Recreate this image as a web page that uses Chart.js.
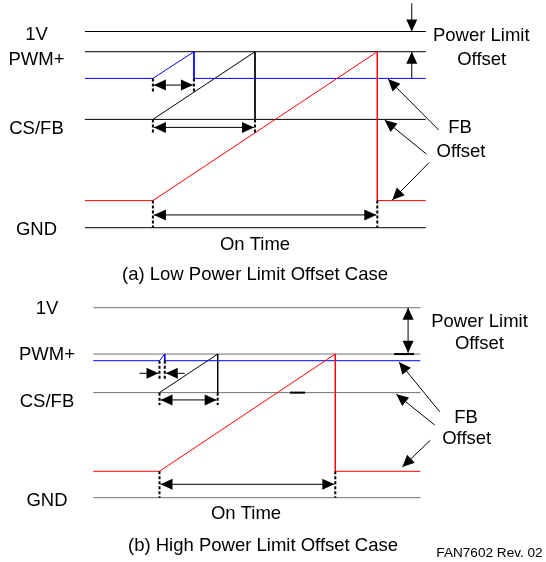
<!DOCTYPE html>
<html><head><meta charset="utf-8">
<script src="https://cdn.jsdelivr.net/npm/chart.js@4"></script>
<style>html,body{margin:0;padding:0;background:#fff;}#wrap{width:546px;height:562px;}</style>
</head><body><div id="wrap"><canvas id="c" width="546" height="562"></canvas></div>
<script>
// ---------------- DATA (volts, and time normalised to the on time) ----------------
const captions = ['(a) Low Power Limit Offset Case', '(b) High Power Limit Offset Case'];
const signalLabels = ['1V', 'PWM+', 'CS/FB', 'GND'];
const rightLabels = ['Power Limit', 'Offset', 'FB', 'Offset'];
const onTimeLabel = 'On Time';
const footnote = 'FAN7602 Rev. 02';

const refLevel    = [1.0, 1.0];     // 1V
const pwmLevel    = [0.897, 0.756]; // PWM+
const fbLevel     = [0.761, 0.721]; // blue feedback level
const csLevel     = [0.552, 0.553]; // CS/FB
const offsetLevel = [0.138, 0.139]; // red offset level
const gndLevel    = [0, 0];         // GND

const tStart   = [0, 0];
const tBlueEnd = [0.183, 0.030];
const tCsEnd   = [0.455, 0.331];
const tOnEnd   = [1, 1];
const tFrom    = [-0.303, -0.377];
const tTo      = [1.216, 1.484];
const csGlitch = [null, [0.742, 0.828]];

// ---------------- LAYOUT / STYLE ----------------
const W = 546, H = 562;
const FONT = '"Liberation Sans", Arial, Helvetica, sans-serif';
const geom = [
  { t0:152.9, t1:377.3, v0:227.7, v1:31.5, rail:'#000000',
    labelX:36.5, labelDy:[1.5, 6.6, 8.1, 0.6],
    right:[[481.3,34.5],[481.7,58.3],[460,126.7],[461,150]],
    onTime:[255,243], caption:[255,273.5],
    plInset:14, plKind:'split', plTopPx:3.3,
    pointers:[{tail:[438.7,130], tipX:388, lvl:'fb', dy:0.7},
              {tail:[426.3,154], tipX:384.7, lvl:'cs', dy:0.7},
              {tail:[429,162.7], tipX:392.3, lvl:'off', dy:-0.7}],
    dims:[{to:'blue', lvl:'fb', dy:6.7, tick:13.4, kind:'double'},
          {to:'cs', lvl:'cs', dy:8, tick:13.4, kind:'double'},
          {to:'on', lvl:'off', dy:14.3, tick:'gnd', kind:'double'}] },
  { t0:159.5, t1:335.3, v0:497.7, v1:307.7, rail:'#707070',
    labelX:47, labelDy:[-0.2, -1, 7.3, 1.3],
    right:[[479.5,320.5],[479.4,342],[466,416],[466.7,437.7]],
    onTime:[246,512], caption:[263,544],
    plInset:12.3, plKind:'double', plTopPx:null,
    pointers:[{tail:[439.7,411.7], tipX:399, lvl:'fb', dy:1.3},
              {tail:[434.7,425], tipX:396.3, lvl:'cs', dy:1.6},
              {tail:[430.3,440.3], tipX:402.3, lvl:'off', dy:-4.3}],
    dims:[{to:'blue', lvl:'fb', dy:12.6, tick:18.6, kind:'inward'},
          {to:'cs', lvl:'cs', dy:7.3, tick:12.3, kind:'double'},
          {to:'on', lvl:'off', dy:13, tick:'gnd', kind:'double'}] }
];

function lv(p, n) {
  return {v1:refLevel[p], pwm:pwmLevel[p], fb:fbLevel[p], cs:csLevel[p], off:offsetLevel[p], gnd:gndLevel[p]}[n];
}
function tm(p, n) {
  return {start:tStart[p], blue:tBlueEnd[p], cs:tCsEnd[p], on:tOnEnd[p]}[n];
}

// scales: each panel gets its own time / voltage axis pair
const scales = {};
geom.forEach((g, p) => {
  const kx = g.t1 - g.t0, ky = g.v0 - g.v1;
  scales['x' + p] = {type:'linear', axis:'x', position:'bottom', display:false, min:-g.t0 / kx, max:(W - g.t0) / kx};
  scales['y' + p] = {type:'linear', axis:'y', position:'left', display:false, min:(g.v0 - H) / ky, max:g.v0 / ky};
});

function line(p, pts, color, width) {
  return {data: pts.map(([x, y]) => ({x, y})), showLine:true, borderColor:color, backgroundColor:color,
    borderWidth:width || 1, pointRadius:0, pointHoverRadius:0, fill:false, tension:0,
    borderCapStyle:'butt', borderJoinStyle:'miter', xAxisID:'x' + p, yAxisID:'y' + p};
}

const paint = []; // in painting order (first = bottom)
geom.forEach((g, p) => {
  const a = tFrom[p], b = tTo[p];
  paint.push(line(p, [[a, refLevel[p]], [b, refLevel[p]]], g.rail));
  paint.push(line(p, [[a, pwmLevel[p]], [b, pwmLevel[p]]], g.rail));
  paint.push(line(p, [[a, csLevel[p]], [b, csLevel[p]]], g.rail));
  paint.push(line(p, [[a, gndLevel[p]], [b, gndLevel[p]]], g.rail));
  paint.push(line(p, [[tStart[p], csLevel[p]], [tCsEnd[p], pwmLevel[p]], [tCsEnd[p], csLevel[p]]], '#000000'));
  if (csGlitch[p]) paint.push(line(p, [[csGlitch[p][0], csLevel[p]], [csGlitch[p][1], csLevel[p]]], '#000000', 2));
  paint.push(line(p, [[a, fbLevel[p]], [tStart[p], fbLevel[p]], [tBlueEnd[p], pwmLevel[p]], [tBlueEnd[p], fbLevel[p]], [b, fbLevel[p]]], '#0000ff'));
  paint.push(line(p, [[a, offsetLevel[p]], [tStart[p], offsetLevel[p]], [tOnEnd[p], pwmLevel[p]], [tOnEnd[p], offsetLevel[p]], [b, offsetLevel[p]]], '#ff0000'));
});
const datasets = paint.map((d, i) => Object.assign(d, {order: paint.length - i}));

function head(ctx, x, y, ang) {
  const L = 12, Wd = 5.5, c = Math.cos(ang), s = Math.sin(ang);
  ctx.beginPath();
  ctx.moveTo(x, y);
  ctx.lineTo(x - L * c + Wd * s, y - L * s - Wd * c);
  ctx.lineTo(x - L * c - Wd * s, y - L * s + Wd * c);
  ctx.closePath();
  ctx.fill();
}
function arrow(ctx, x1, y1, x2, y2, atEnd, atStart) {
  ctx.setLineDash([]);
  ctx.lineWidth = 1;
  ctx.beginPath(); ctx.moveTo(x1, y1); ctx.lineTo(x2, y2); ctx.stroke();
  const a = Math.atan2(y2 - y1, x2 - x1);
  if (atEnd) head(ctx, x2, y2, a);
  if (atStart) head(ctx, x1, y1, a + Math.PI);
}
function tick(ctx, x, y1, y2) {
  ctx.save();
  ctx.lineWidth = 2; ctx.setLineDash([3, 2]);
  ctx.beginPath(); ctx.moveTo(x, y1); ctx.lineTo(x, y2); ctx.stroke();
  ctx.restore();
}
function txt(ctx, s, x, yc, size, align) {
  ctx.font = size + 'px ' + FONT;
  ctx.textAlign = align || 'center';
  ctx.textBaseline = 'alphabetic';
  ctx.fillText(s, x, yc + 0.358 * size);
}

const annot = {
  id: 'annot',
  afterDatasetsDraw(chart) {
    const ctx = chart.ctx;
    ctx.save();
    ctx.strokeStyle = '#000'; ctx.fillStyle = '#000';
    geom.forEach((g, p) => {
      const xs = chart.scales['x' + p], ys = chart.scales['y' + p];
      const X = t => xs.getPixelForValue(t), Y = v => ys.getPixelForValue(v);
      const xR = X(tTo[p]);
      // dimension arrows
      g.dims.forEach(d => {
        const xa = X(tStart[p]), xb = X(tm(p, d.to));
        const yl = Y(lv(p, d.lvl));
        const ya = yl + d.dy;
        const yt = d.tick === 'gnd' ? Y(gndLevel[p]) : yl + d.tick;
        tick(ctx, xa, yl, yt); tick(ctx, xb, yl, yt);
        if (d.kind === 'double') arrow(ctx, xa + 1, ya, xb - 1, ya, true, true);
        else { arrow(ctx, xa - 20, ya, xa - 1, ya, true, false); arrow(ctx, xb + 20, ya, xb + 1, ya, true, false); }
      });
      // power limit offset arrows
      const xp = xR - g.plInset;
      if (g.plKind === 'split') {
        arrow(ctx, xp, g.plTopPx, xp, Y(refLevel[p]), true, false);
        arrow(ctx, xp, Y(fbLevel[p]), xp, Y(pwmLevel[p]), true, false);
      } else {
        arrow(ctx, xp, Y(refLevel[p]), xp, Y(pwmLevel[p]) - 1.3, true, true);
        ctx.lineWidth = 2; ctx.beginPath();
        ctx.moveTo(xp - 14, Y(pwmLevel[p])); ctx.lineTo(xp + 6, Y(pwmLevel[p])); ctx.stroke();
      }
      // FB offset pointers
      g.pointers.forEach(q => arrow(ctx, q.tail[0], q.tail[1], q.tipX, Y(lv(p, q.lvl)) + q.dy, true, false));
      // texts
      const lvls = ['v1', 'pwm', 'cs', 'gnd'];
      signalLabels.forEach((s, i) => txt(ctx, s, g.labelX, Y(lv(p, lvls[i])) + g.labelDy[i], 18.5));
      rightLabels.forEach((s, i) => txt(ctx, s, g.right[i][0], g.right[i][1], 18.5));
      txt(ctx, onTimeLabel, g.onTime[0], g.onTime[1], 18.5);
      txt(ctx, captions[p], g.caption[0], g.caption[1], 18.5);
    });
    txt(ctx, footnote, 489.5, 552, 13.6);
    ctx.restore();
  }
};

new Chart(document.getElementById('c'), {
  type: 'scatter',
  data: { datasets },
  options: {
    responsive: false, animation: false, events: [],
    layout: { padding: 0 },
    scales,
    plugins: { legend: {display:false}, tooltip: {enabled:false}, title: {display:false} }
  },
  plugins: [annot]
});
</script></body></html>
